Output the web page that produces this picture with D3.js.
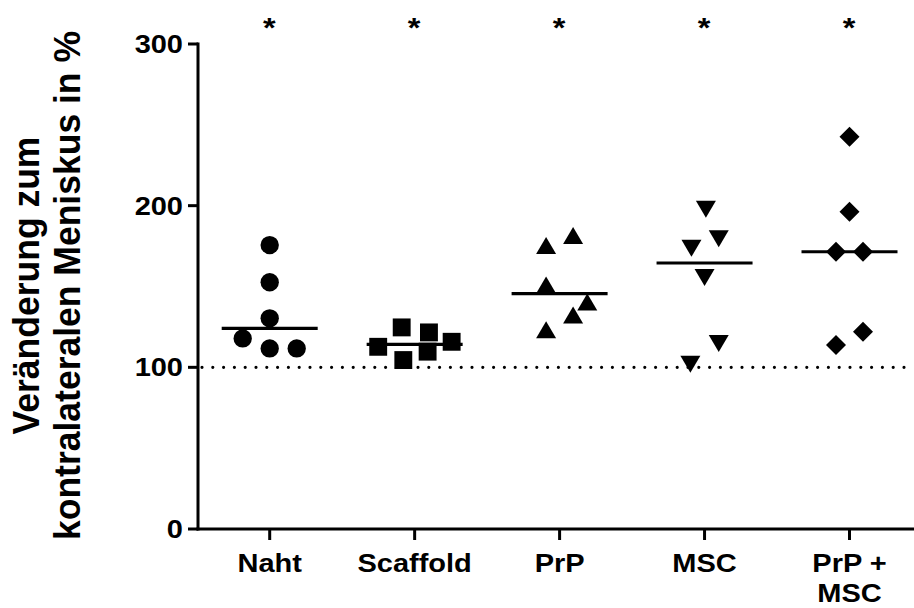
<!DOCTYPE html>
<html>
<head>
<meta charset="utf-8">
<script src="https://cdn.jsdelivr.net/npm/d3@7"></script>
<style>
  body { margin: 0; background: #fff; }
  text { font-family: "Liberation Sans", Arial, sans-serif; font-weight: bold; fill: #000; }
</style>
</head>
<body>
<svg id="chart" width="914" height="608"></svg>
<script>
// groups on the x axis (label lines)
const groups = ["Naht", "Scaffold", "PrP", "MSC", "PrP + MSC"];
const groupLines = [["Naht"], ["Scaffold"], ["PrP"], ["MSC"], ["PrP +", "MSC"]];

// values, % change vs. contralateral meniscus
const naht     = [175.6, 152.6, 130.3, 117.9, 111.7, 111.7];
const scaffold = [124.7, 121.6, 112.7, 115.8, 104.5, 109.7];
const prp      = [175.4, 181.5, 150.9, 140.4, 132.3, 123.3];
const msc      = [197.8, 179.6, 173.6, 155.5, 114.7, 101.9];
const prpMsc   = [242.6, 196.2, 171.5, 171.5, 122.0, 113.8];

// horizontal scatter of the points, in marker slots
const nahtJit     = [0, 0, 0, -2, 0, 2];
const scaffoldJit = [-0.96, 1.06, -2.7, 2.74, -0.84, 0.96];
const prpJit      = [-1, 1, -1, 2.05, 1, -1];
const mscJit      = [0.1, 1.05, -0.97, 0, 1.05, -1.05];
const prpMscJit   = [0, 0, -1, 1, 1, -1];

const yTicks = [0, 100, 200, 300];
const stars = ["*", "*", "*", "*", "*"];

const series = [naht, scaffold, prp, msc, prpMsc];
const jitter = [nahtJit, scaffoldJit, prpJit, mscJit, prpMscJit];
const shapes = ["circle", "square", "up", "down", "diamond"];

const width = 914, height = 608;
const margin = {top: 44, right: 0, bottom: 79, left: 198};
const sx = 1.16; // text in the figure is a bit wider than tall

const svg = d3.select("#chart");

const x = d3.scalePoint()
    .domain(groups)
    .range([269.7, 849.5]);

const y = d3.scaleLinear()
    .domain([0, 300])
    .range([height - margin.bottom, margin.top]);

const slot = 13.5;

// reference line at 100 %
svg.append("line")
    .attr("x1", margin.left + 4).attr("x2", width - 2)
    .attr("y1", y(100)).attr("y2", y(100))
    .attr("stroke", "#000").attr("stroke-width", 3.2)
    .attr("stroke-linecap", "round")
    .attr("stroke-dasharray", "0 10.8");

// axes
svg.append("line")
    .attr("x1", margin.left).attr("x2", margin.left)
    .attr("y1", y(300) - 1.5).attr("y2", y(0) + 1.5)
    .attr("stroke", "#000").attr("stroke-width", 3);
svg.append("line")
    .attr("x1", margin.left - 1.5).attr("x2", width)
    .attr("y1", y(0)).attr("y2", y(0))
    .attr("stroke", "#000").attr("stroke-width", 3);

const yAx = svg.append("g");
yAx.selectAll("line")
    .data(yTicks)
    .join("line")
    .attr("x1", margin.left - 10).attr("x2", margin.left)
    .attr("y1", d => y(d)).attr("y2", d => y(d))
    .attr("stroke", "#000").attr("stroke-width", 3);
yAx.selectAll("text")
    .data(yTicks)
    .join("text")
    .attr("transform", d => `translate(${margin.left - 15},${y(d) + 9}) scale(${sx},1)`)
    .attr("text-anchor", "end")
    .attr("font-size", 25)
    .text(d => d);

const xAx = svg.append("g");
xAx.selectAll("line")
    .data(groups)
    .join("line")
    .attr("x1", d => x(d)).attr("x2", d => x(d))
    .attr("y1", y(0)).attr("y2", y(0) + 11)
    .attr("stroke", "#000").attr("stroke-width", 3);
xAx.selectAll("text")
    .data(groups)
    .join("text")
    .attr("transform", d => `translate(${x(d)},${y(0) + 43}) scale(${sx},1)`)
    .attr("text-anchor", "middle")
    .attr("font-size", 25)
    .selectAll("tspan")
    .data((d, i) => groupLines[i])
    .join("tspan")
    .attr("x", 0)
    .attr("dy", (d, i) => i === 0 ? 0 : 30)
    .text(d => d);

// significance stars
svg.append("g")
    .selectAll("text")
    .data(groups)
    .join("text")
    .attr("transform", d => `translate(${x(d) - 0.5},${37}) scale(${sx},1)`)
    .attr("text-anchor", "middle")
    .attr("font-size", 28)
    .text((d, i) => stars[i]);

// y title
const title = svg.append("g")
    .attr("transform", `translate(38.5,${(margin.top + height - margin.bottom) / 2 - 1}) scale(1.06,1) rotate(-90)`);
title.append("text")
    .attr("text-anchor", "middle")
    .attr("font-size", 35.5)
    .text("Veränderung zum");
title.append("text")
    .attr("text-anchor", "middle")
    .attr("font-size", 35.5)
    .attr("y", 39)
    .text("kontralateralen Meniskus in %");

// medians
svg.append("g")
    .selectAll("line")
    .data(groups)
    .join("line")
    .attr("x1", d => x(d) - 48).attr("x2", d => x(d) + 48)
    .attr("y1", (d, i) => y(d3.median(series[i])))
    .attr("y2", (d, i) => y(d3.median(series[i])))
    .attr("stroke", "#000").attr("stroke-width", 3.2);

// marker shapes, about 18 px across
const shapePath = {
    circle: d3.symbol(d3.symbolCircle, 265)(),
    square: d3.symbol(d3.symbolSquare, 320)(),
    up: "M0,-8.5L10,8.5L-10,8.5Z",
    down: "M0,8.5L10,-8.5L-10,-8.5Z",
    diamond: "M0,-10L10,0L0,10L-10,0Z"
};

groups.forEach((g, i) => {
    svg.append("g")
        .selectAll("path")
        .data(series[i])
        .join("path")
        .attr("d", shapePath[shapes[i]])
        .attr("transform", (d, j) => `translate(${x(g) + jitter[i][j] * slot},${y(d)})`)
        .attr("fill", "#000");
});
</script>
</body>
</html>
